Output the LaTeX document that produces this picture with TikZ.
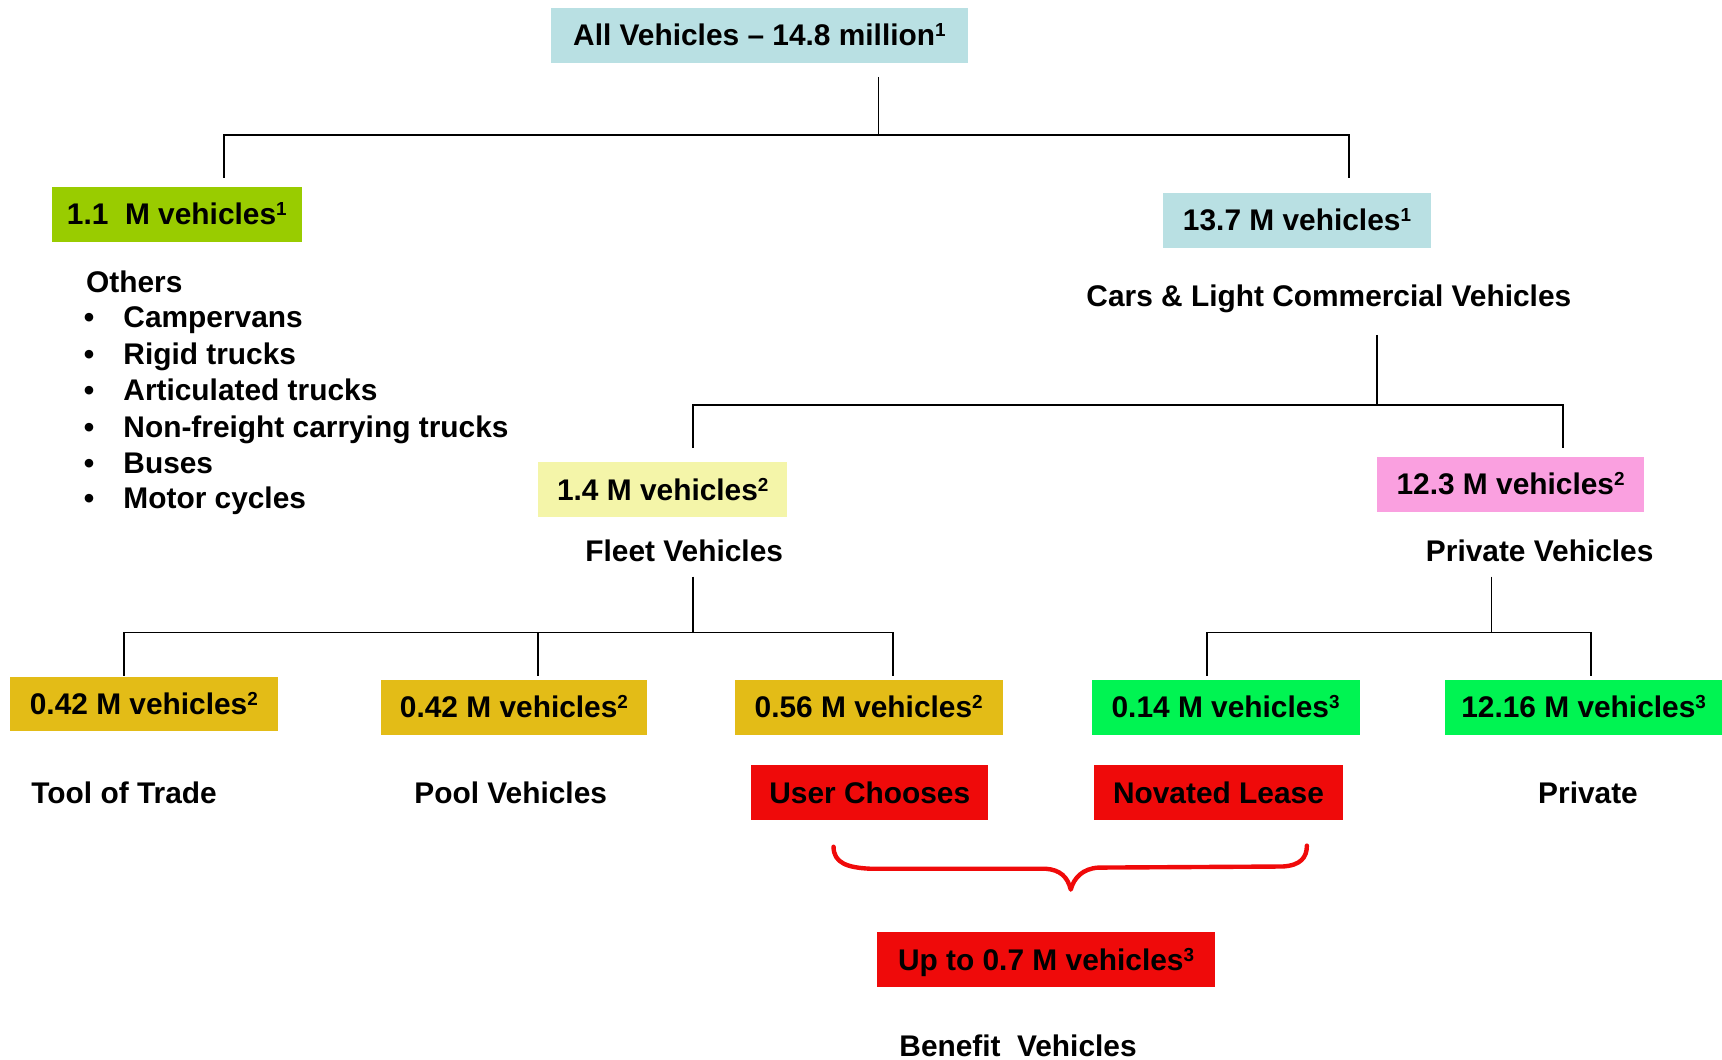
\documentclass[tikz,border=0pt]{standalone}
\usepackage{fontspec}
\setmainfont{Liberation Sans}
\definecolor{cblue}{HTML}{B9E0E3}
\definecolor{cgreen}{HTML}{99CC00}
\definecolor{cyellow}{HTML}{F4F5A9}
\definecolor{cpink}{HTML}{FAA0E0}
\definecolor{cgold}{HTML}{E3BC17}
\definecolor{cbright}{HTML}{00F452}
\definecolor{cred}{HTML}{EF0A0A}
\definecolor{cbrace}{HTML}{F00A0A}
\newcommand{\supr}[1]{\raisebox{4.2pt}{\fontsize{8.6}{9}\selectfont #1}}
\begin{document}
\begin{tikzpicture}[x=0.5pt,y=-0.5pt,font=\fontsize{13.6}{16}\selectfont\bfseries]
\tikzset{
  box/.style={inner sep=0pt,minimum height=25pt,text height=9.7pt,text depth=0pt,align=center},
  lbl/.style={anchor=base,inner sep=0pt},
  lleft/.style={anchor=base west,inner sep=0pt},
  conn/.style={line width=0.8pt,black},
}
\useasboundingbox (0,0) rectangle (1568,965);
\fill[white] (0,0) rectangle (1568,965);

% boxes
\node[box,fill=cblue,minimum width=189.5pt] (all) at (691.5,32) {All Vehicles – 14.8 million\supr{1}};
\node[box,fill=cgreen,minimum width=114pt] (oth) at (161,195) {1.1\ \ M vehicles\supr{1}};
\node[box,fill=cblue,minimum width=122pt] (clc) at (1181,200.5) {13.7 M vehicles\supr{1}};
\node[lbl] (clct) at (1210,278.7) {Cars \& Light Commercial Vehicles};
\node[box,fill=cyellow,minimum width=113.5pt] (fleet) at (603.5,446) {1.4 M vehicles\supr{2}};
\node[lbl] (fleett) at (623,511.7) {Fleet Vehicles};
\node[box,fill=cpink,minimum width=121.5pt] (priv) at (1375.5,441) {12.3 M vehicles\supr{2}};
\node[lbl] (privt) at (1402,511.7) {Private Vehicles};

\node[box,fill=cgold,minimum width=122pt] (tool) at (131,641) {0.42 M vehicles\supr{2}};
\node[box,fill=cgold,minimum width=121pt] (pool) at (468,644) {0.42 M vehicles\supr{2}};
\node[box,fill=cgold,minimum width=122pt] (user) at (791,644) {0.56 M vehicles\supr{2}};
\node[box,fill=cbright,minimum width=122pt] (nov) at (1116,644) {0.14 M vehicles\supr{3}};
\node[box,fill=cbright,minimum width=126pt] (pp) at (1442,644) {12.16 M vehicles\supr{3}};

\node[lbl] (toolt) at (113,731.7) {Tool of Trade};
\node[lbl] (poolt) at (465,731.7) {Pool Vehicles};
\node[box,fill=cred,minimum width=108pt] (usert) at (792,722) {User Chooses};
\node[box,fill=cred,minimum width=113.5pt] (novt) at (1109.5,722) {Novated Lease};
\node[lbl] (ppt) at (1446,731.7) {Private};

\node[box,fill=cred,minimum width=153.5pt] (ben) at (952.5,874) {Up to 0.7 M vehicles\supr{3}};
\node[lbl] (bent) at (927,961.7) {Benefit\hspace{0.55em}Vehicles};

% others list
\node[lleft] (others) at (78,266.2) {Others};
\foreach \yy/\tt [count=\i] in {298.1/Campervans,332/Rigid trucks,364.8/Articulated trucks,398.2/Non-freight carrying trucks,431/Buses,463.2/Motor cycles}{
  \node[lleft] (b\i) at (76,\yy) {•};
  \node[lleft] (it\i) at (112,\yy) {\tt};
}

% connectors
\coordinate (a0) at (800,70);
\coordinate (a1) at (800,123);
\coordinate (aL) at (204,162);
\coordinate (aR) at (1228,162);
\draw[conn] (a0) -- (a1);
\draw[conn] (aL) |- (a1) -| (aR);

\coordinate (c0) at (1254,305);
\coordinate (c1) at (1254,369);
\coordinate (cL) at (631,408);
\coordinate (cR) at (1423,408);
\draw[conn] (c0) -- (c1);
\draw[conn] (cL) |- (c1) -| (cR);

\coordinate (f0) at (631,525);
\coordinate (f1) at (631,576);
\coordinate (fL) at (113,615.5);
\coordinate (fM) at (490,615.5);
\coordinate (fR) at (813,615.5);
\draw[conn] (f0) -- (f1);
\draw[conn] (fL) |- (f1) -| (fR);
\draw[conn] (fM) -- (fM |- f1);

\coordinate (p0) at (1358,525);
\coordinate (p1) at (1358,576);
\coordinate (pL) at (1099,615.5);
\coordinate (pR) at (1449,615.5);
\draw[conn] (p0) -- (p1);
\draw[conn] (pL) |- (p1) -| (pR);

% brace
\draw[cbrace,line width=2pt,line cap=round,line join=round]
  (759,771) .. controls (759,786) and (772,790) .. (792,791)
  -- (952,791) .. controls (965,792) and (972,798) .. (975,810)
  .. controls (978,799) and (986,791) .. (1000,790)
  -- (1168,789) .. controls (1184,788) and (1190,781) .. (1190,770);
\end{tikzpicture}
\end{document}
